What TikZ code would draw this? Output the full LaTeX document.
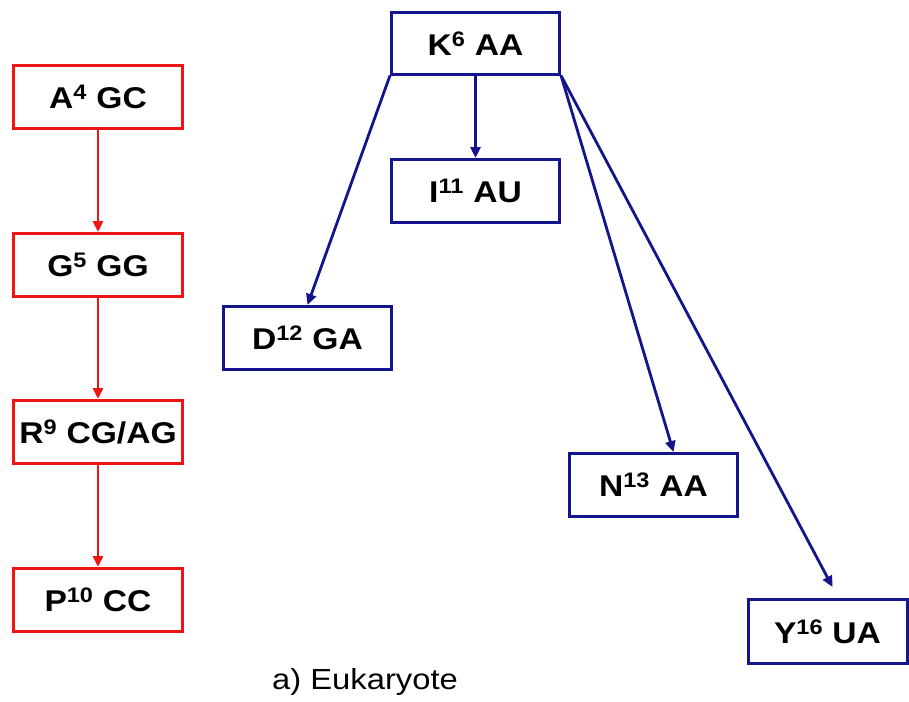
\documentclass[tikz,border=0pt]{standalone}
\usepackage{fontspec}
\setmainfont{Liberation Sans}
\usetikzlibrary{arrows.meta}
\definecolor{redc}{RGB}{240,20,20}
\definecolor{bluec}{RGB}{20,20,140}
\newcommand\wx[1]{\scalebox{1.12}[1]{#1}}
\newcommand\wl[1]{\scalebox{1.13}[1]{#1}}
\tikzset{
  box/.style={draw, line width=3pt, inner sep=0pt, font=\fontsize{30}{36}\selectfont\bfseries, text=black},
  redbox/.style={box, draw=redc, minimum width=169pt, minimum height=63pt},
  bluebox/.style={box, draw=bluec, minimum width=168pt, minimum height=63pt},
  redarr/.style={draw=redc, line width=2.8pt, -{Triangle[length=11pt,width=10pt]}},
  bluearr/.style={draw=bluec, line width=2.8pt, -{Triangle[length=11pt,width=10pt]}},
}
\begin{document}
\begin{tikzpicture}[x=1pt,y=-1pt]
\useasboundingbox (0,0) rectangle (909,701);
\node[redbox] (A) at (98,97) {\wx{A\textsuperscript{4} GC}};
\node[redbox] (G) at (98,265) {\wx{G\textsuperscript{5} GG}};
\node[redbox] (R) at (98,432) {\wx{R\textsuperscript{9} CG/AG}};
\node[redbox] (P) at (98,600) {\wx{P\textsuperscript{10} CC}};
\node[bluebox, minimum height=61pt] (K) at (475.5,43.5) {\wx{K\textsuperscript{6} AA}};
\node[bluebox] (I) at (475.5,191) {\wx{I\textsuperscript{11} AU}};
\node[bluebox] (D) at (307.5,338) {\wx{D\textsuperscript{12} GA}};
\node[bluebox] (N) at (653.5,485) {\wx{N\textsuperscript{13} AA}};
\node[bluebox, minimum width=159pt, minimum height=64pt] (Y) at (827.5,631.5) {\wx{Y\textsuperscript{16} UA}};
\node[font=\fontsize{29}{34}\selectfont] (L) at (365,682) {\wl{a) Eukaryote}};
\draw[redarr] (A) -- (G);
\draw[redarr] (G) -- (R);
\draw[redarr] (R) -- (P);
\draw[bluearr] (K) -- (I);
\draw[bluearr] (K.south west) -- (D.north);
\draw[bluearr] (K.south east) -- ([xshift=20pt]N.north);
\draw[bluearr] (K.south east) -- ([xshift=5pt,yshift=11pt]Y.north);
\end{tikzpicture}
\end{document}
